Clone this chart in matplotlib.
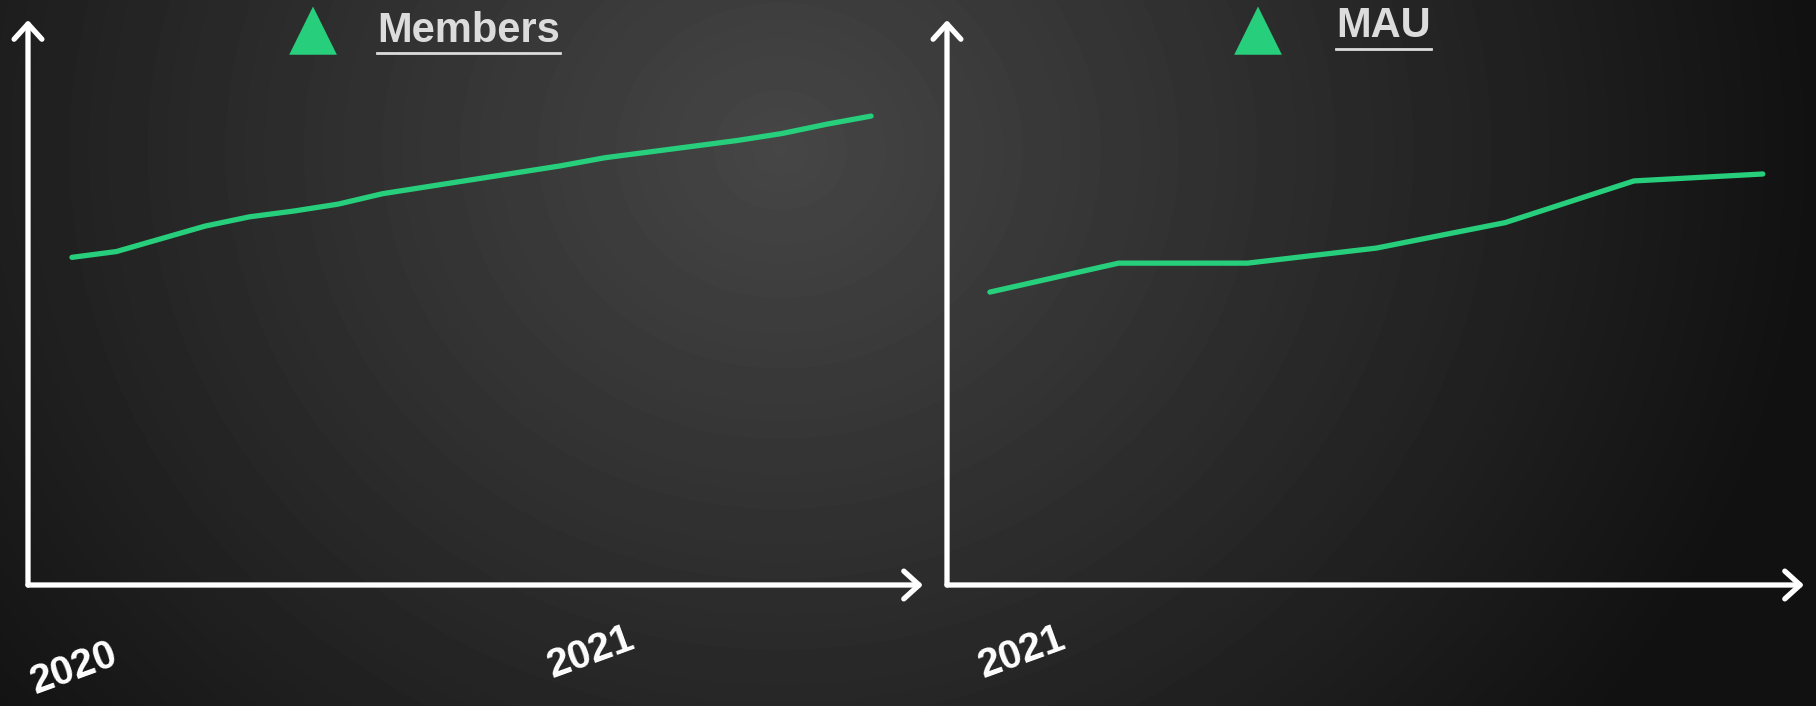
import matplotlib.pyplot as plt
import numpy as np
from matplotlib.lines import Line2D

# data (arbitrary units, height above the x axis)
members = [283, 288, 299, 310, 318, 323, 329, 338, 344, 350, 356, 362, 369,
           374, 379, 384, 390, 398, 405]
mau = [253, 278, 278, 291, 313, 349, 355]
members_years = ['2020', '2021']
mau_years = ['2021']

GREEN = '#27cf7c'
TEXT = '#dcdcdc'

fig = plt.figure(figsize=(18.16, 7.06), dpi=100)

# dark radial background
bg = fig.add_axes([0, 0, 1, 1])
yy, xx = np.mgrid[0:706, 0:1816]
r = np.sqrt(((xx - 780) / 1000.0) ** 2 + ((yy - 150) / 900.0) ** 2)
shade = np.clip(0.275 - 0.2 * r, 0.07, 0.275)
bg.imshow(shade, cmap='gray', vmin=0, vmax=1, aspect='auto', extent=[0, 1, 0, 1])
bg.axis('off')


def panel(rect, values, xlim, years, year_x, year_y, title, tri_x, text_x, text_y):
    ax = fig.add_axes(rect)
    ax.patch.set_alpha(0)
    ax.plot(range(len(values)), values, color=GREEN, lw=3.8, solid_capstyle='round')
    ax.set_xlim(xlim)
    ax.set_ylim(0, 488)
    for s in ax.spines.values():
        s.set_visible(False)
    ax.set_xticks([])
    ax.set_yticks([])
    arrow = dict(arrowstyle='->,head_length=0.55,head_width=0.5', lw=3.8,
                 color='white', mutation_scale=20, shrinkA=0, shrinkB=0)
    ax.annotate('', xy=(0, 1), xytext=(0, 0), xycoords='axes fraction',
                arrowprops=arrow)
    ax.annotate('', xy=(1, 0), xytext=(0, 0), xycoords='axes fraction',
                arrowprops=arrow)
    for lab, x, y in zip(years, year_x, year_y):
        ax.text(x, y, lab, transform=ax.get_xaxis_transform(), rotation=20,
                ha='center', va='center', color='white', fontsize=29,
                fontweight='bold', family='Liberation Sans')
    # title with triangle marker and underline
    fig.text(tri_x / 1816, 1 - 30 / 706, '\u25b2', color=GREEN, fontsize=45,
             ha='center', va='center', family='DejaVu Sans')
    t = fig.text(text_x / 1816, 1 - text_y / 706, title, color=TEXT, fontsize=30,
                 fontweight='bold', ha='left', va='center', family='Liberation Sans')
    return t


t1 = panel([28 / 1816, 121 / 706, 895 / 1816, 565 / 706], members, (-0.99, 19.17),
           members_years, [0.05, 11.7], [-0.147, -0.119], 'Members', 313, 377, 31)
t2 = panel([947 / 1816, 121 / 706, 857 / 1816, 565 / 706], mau, (-0.333, 6.32),
           mau_years, [0.25], [-0.119], 'MAU', 1258, 1336, 26)

fig.canvas.draw()
r_ = fig.canvas.get_renderer()
for t, uy in ((t1, 53), (t2, 49)):
    bb = t.get_window_extent(r_)
    y = 706 - uy
    fig.add_artist(Line2D([bb.x0 / 1816, bb.x1 / 1816], [y / 706, y / 706],
                          color=TEXT, lw=2, transform=fig.transFigure))

fig.savefig('out.png', dpi=100)
